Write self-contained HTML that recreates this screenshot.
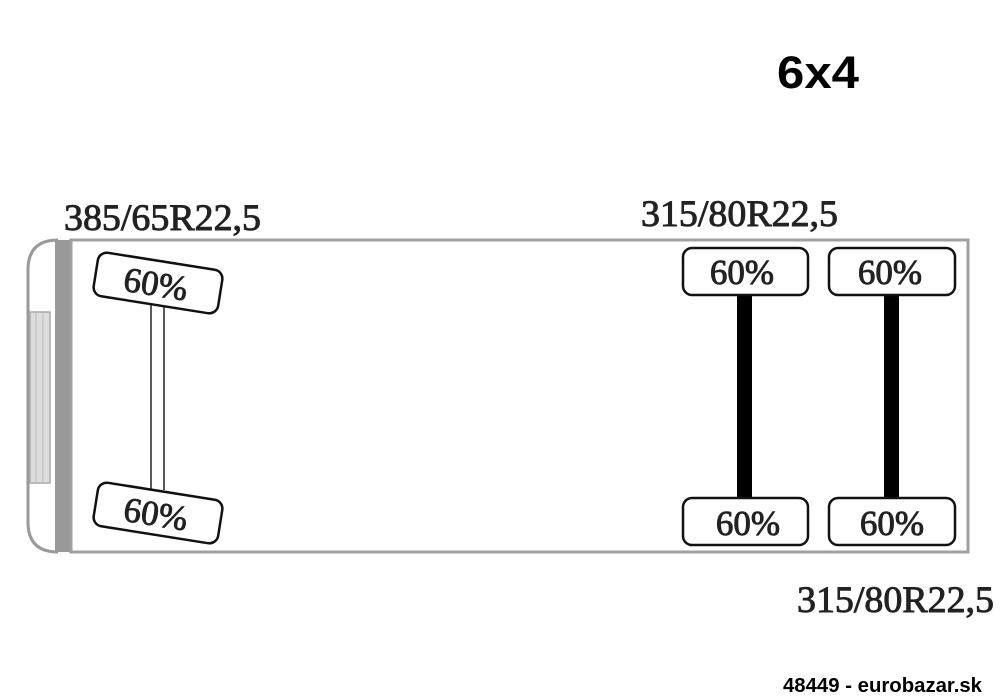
<!DOCTYPE html>
<html><head><meta charset="utf-8"><style>html,body{margin:0;padding:0;background:#fff}svg{display:block}</style></head>
<body>
<svg width="1000" height="700" viewBox="0 0 1000 700" xmlns="http://www.w3.org/2000/svg">
<rect width="1000" height="700" fill="#fff"/>
<text x="777" y="88" font-family="Liberation Sans, sans-serif" font-weight="bold" font-size="45" textLength="82" lengthAdjust="spacingAndGlyphs">6x4</text>
<g font-family="Liberation Serif, serif" font-size="37" fill="#222" stroke="#222" stroke-width="0.9">
<text x="64" y="230" textLength="197" lengthAdjust="spacingAndGlyphs">385/65R22,5</text>
<text x="641" y="226" textLength="197" lengthAdjust="spacingAndGlyphs">315/80R22,5</text>
<text x="797" y="612" textLength="197" lengthAdjust="spacingAndGlyphs">315/80R22,5</text>
</g>
<text x="783" y="692" font-family="Liberation Sans, sans-serif" font-weight="bold" font-size="20" textLength="199" lengthAdjust="spacingAndGlyphs">48449 - eurobazar.sk</text>
<!-- cab front -->
<path d="M57 240 L57 552 L58 552 Q28 552 28 522 L28 270 Q28 240 58 240 Z" fill="#fff" stroke="#999" stroke-width="3"/>
<rect x="30" y="312" width="20" height="171" fill="#ddd" stroke="#aaa" stroke-width="1.5"/>
<line x1="36" y1="312" x2="36" y2="483" stroke="#bbb"/>
<line x1="43" y1="312" x2="43" y2="483" stroke="#bbb"/>
<rect x="55" y="240" width="17" height="312" fill="#999"/>
<!-- body -->
<rect x="71" y="240" width="897" height="312" fill="none" stroke="#a0a0a0" stroke-width="3"/>
<!-- front axle -->
<line x1="151" y1="300" x2="151" y2="490" stroke="#222" stroke-width="1.5"/>
<line x1="164" y1="300" x2="164" y2="490" stroke="#222" stroke-width="1.5"/>
<g font-family="Liberation Serif, serif" font-size="35" fill="#222" stroke="#222" stroke-width="0.9" text-anchor="middle">
<g transform="rotate(9 158 283)"><rect x="95" y="261" width="126" height="44" rx="9" fill="#fff" stroke="#111" stroke-width="2.5"/>
<text x="156" y="296">60%</text></g>
<g transform="rotate(9 158 513)"><rect x="95" y="491" width="126" height="44" rx="9" fill="#fff" stroke="#111" stroke-width="2.5"/>
<text x="156" y="526">60%</text></g>
</g>
<!-- rear axles -->
<rect x="737" y="292" width="15" height="210" fill="#000"/>
<rect x="884" y="292" width="15" height="210" fill="#000"/>
<rect x="683" y="248" width="125" height="47" rx="9" fill="#fff" stroke="#111" stroke-width="2.5"/>
<rect x="829" y="248" width="126" height="47" rx="9" fill="#fff" stroke="#111" stroke-width="2.5"/>
<rect x="683" y="498" width="125" height="47" rx="9" fill="#fff" stroke="#111" stroke-width="2.5"/>
<rect x="829" y="498" width="126" height="47" rx="9" fill="#fff" stroke="#111" stroke-width="2.5"/>
<g font-family="Liberation Serif, serif" font-size="35" fill="#222" stroke="#222" stroke-width="0.9" text-anchor="middle">
<text x="742" y="284">60%</text><text x="890" y="284">60%</text>
<text x="748" y="535">60%</text><text x="892" y="535">60%</text>
</g>
</svg>
</body></html>
